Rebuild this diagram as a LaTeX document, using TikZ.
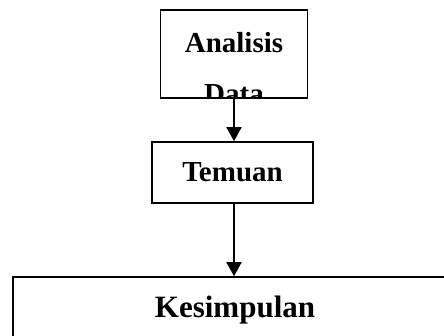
\documentclass[tikz,border=0pt]{standalone}
\usepackage{fontspec}
\setmainfont{Liberation Serif}
\usetikzlibrary{arrows.meta}
\begin{document}
\begin{tikzpicture}[x=1pt, y=-1pt, main/.style = {draw, line width=1.6pt, inner sep=0pt, font=\bfseries\fontsize{29}{35}\selectfont}, arr/.style = {line width=1.8pt, -{Triangle[width=15pt, length=14pt]}}] 
\useasboundingbox (0,0) rectangle (444,335);

\node[main, minimum width=147pt, minimum height=88pt, path picture={
  \node[anchor=base] at ([yshift=-42pt]path picture bounding box.north) {Analisis};
  \node[anchor=base] at ([yshift=-93pt]path picture bounding box.north) {Data};
}] (1) at (234,54) {}; 
\node[main, minimum width=161pt, minimum height=61pt] (2) at (232.5,172.5) {Temuan}; 
\node[main, minimum width=444pt, minimum height=66pt, font=\bfseries\fontsize{31}{37}\selectfont] (3) at (235,310) {Kesimpulan}; 

\draw[arr] (1.south) -- (1.south |- 2.north); 
\draw[arr] (1.south |- 2.south) -- (1.south |- 3.north); 

\end{tikzpicture}
\end{document}
